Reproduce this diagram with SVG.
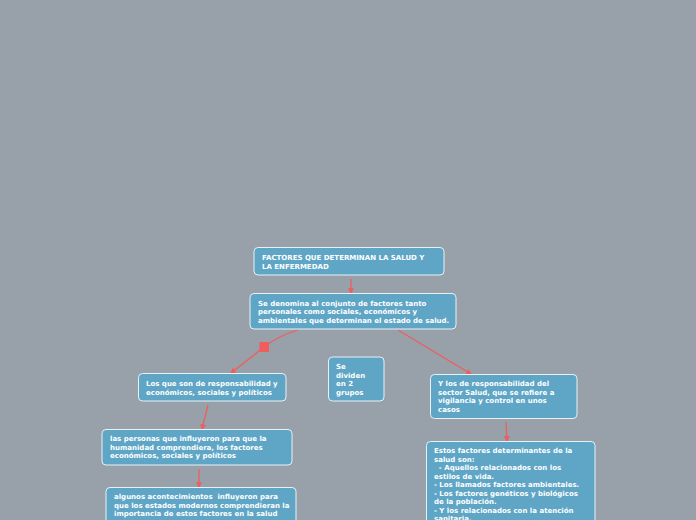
<svg xmlns="http://www.w3.org/2000/svg" width="696" height="520" viewBox="0 0 696 520">
<defs>
<style>
.n{fill:#5ea5c6;stroke:#e8f1f6;stroke-width:1}
.t{font-family:"DejaVu Sans",Verdana,sans-serif;font-weight:bold;font-size:7px;fill:#ffffff}
.c{fill:none;stroke:#ef5d5d;stroke-width:1.3}
</style>
<marker id="a" viewBox="0 0 10 10" refX="8" refY="5" markerWidth="6" markerHeight="6" orient="auto" markerUnits="userSpaceOnUse">
<path d="M0,0 L10,5 L0,10 z" fill="#ef5d5d"/>
</marker>
</defs>
<rect width="696" height="520" fill="#98a1a9"/>
<g id="connectors">
<path class="c" d="M351,279 L351,293" marker-end="url(#a)"/>
<path class="c" d="M298,330 Q278,336 264,347 L231,373" marker-end="url(#a)"/>
<rect x="259.5" y="342" width="9.5" height="10" rx="1" fill="#ef5d5d"/>
<path class="c" d="M398,330 L471,374" marker-end="url(#a)"/>
<path class="c" d="M208,405 L202,429" marker-end="url(#a)"/>
<path class="c" d="M506,422 L507,441" marker-end="url(#a)"/>
<path class="c" d="M199,469 L199,487" marker-end="url(#a)"/>
</g>
<g id="n1">
<rect class="n" x="254" y="247.5" width="190" height="27.5" rx="4"/>
<text class="t" x="262" y="260">FACTORES QUE DETERMINAN LA SALUD Y</text>
<text class="t" x="262" y="268.5">LA ENFERMEDAD</text>
</g>
<g id="n2">
<rect class="n" x="250" y="293.5" width="206" height="35.5" rx="4"/>
<text class="t" x="258" y="305.5">Se denomina al conjunto de factores tanto</text>
<text class="t" x="258" y="314">personales como sociales, económicos y</text>
<text class="t" x="258" y="322.5">ambientales que determinan el estado de salud.</text>
</g>
<g id="n3">
<rect class="n" x="138.5" y="373.5" width="147.5" height="27.5" rx="4"/>
<text class="t" x="146" y="386">Los que son de responsabilidad y</text>
<text class="t" x="146" y="394.5">económicos, sociales y políticos</text>
</g>
<g id="n4">
<rect class="n" x="328.5" y="357" width="55.5" height="44" rx="4"/>
<text class="t" x="336" y="369">Se</text>
<text class="t" x="336" y="377.5">dividen</text>
<text class="t" x="336" y="386">en 2</text>
<text class="t" x="336" y="394.5">grupos</text>
</g>
<g id="n5">
<rect class="n" x="430.5" y="374.5" width="146.5" height="44" rx="4"/>
<text class="t" x="438" y="386">Y los de responsabilidad del</text>
<text class="t" x="438" y="394.5">sector Salud, que se refiere a</text>
<text class="t" x="438" y="403">vigilancia y control en unos</text>
<text class="t" x="438" y="411.5">casos</text>
</g>
<g id="n6">
<rect class="n" x="102" y="429.5" width="190" height="35.5" rx="4"/>
<text class="t" x="110" y="441">las personas que influyeron para que la</text>
<text class="t" x="110" y="449.5">humanidad comprendiera, los factores</text>
<text class="t" x="110" y="458">económicos, sociales y políticos</text>
</g>
<g id="n7">
<rect class="n" x="106" y="487.5" width="190" height="40" rx="4"/>
<text class="t" x="114" y="499" xml:space="preserve">algunos acontecimientos  influyeron para</text>
<text class="t" x="114" y="507.5">que los estados modernos comprendieran la</text>
<text class="t" x="114" y="516">importancia de estos factores en la salud</text>
</g>
<g id="n8">
<rect class="n" x="426.5" y="441.5" width="168.5" height="90" rx="4"/>
<text class="t" x="434" y="453">Estos factores determinantes de la</text>
<text class="t" x="434" y="461.5">salud son:</text>
<text class="t" x="434" y="470" xml:space="preserve">  - Aquellos relacionados con los</text>
<text class="t" x="434" y="478.5">estilos de vida.</text>
<text class="t" x="434" y="487">- Los llamados factores ambientales.</text>
<text class="t" x="434" y="495.5">- Los factores genéticos y biológicos</text>
<text class="t" x="434" y="504">de la población.</text>
<text class="t" x="434" y="512.5">- Y los relacionados con la atención</text>
<text class="t" x="434" y="521">sanitaria.</text>
</g>
</svg>
